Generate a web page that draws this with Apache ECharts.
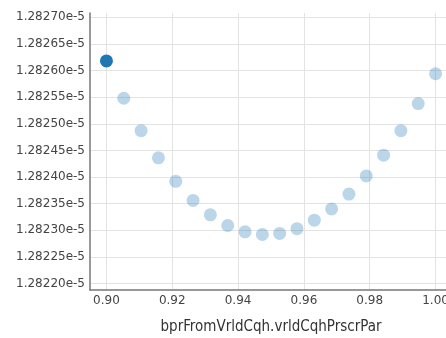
<!DOCTYPE html>
<html>
<head>
<meta charset="utf-8">
<script src="https://cdn.jsdelivr.net/npm/echarts@6/dist/echarts.min.js"></script>
<style>
  html, body { margin: 0; padding: 0; background: #fff; }
  #chart { width: 446px; height: 338px; }
</style>
</head>
<body>
<div id="chart"></div>
<script>
// x values: 20 evenly spaced samples between 0.90 and 1.00
const xValues = [
  0.9, 0.90526, 0.91053, 0.91579, 0.92105, 0.92632, 0.93158, 0.93684, 0.94211, 0.94737,
  0.95263, 0.95789, 0.96316, 0.96842, 0.97368, 0.97895, 0.98421, 0.98947, 0.99474, 1.0
];
// y values
const yValues = [
  1.282618e-5, 1.282548e-5, 1.282487e-5, 1.282436e-5, 1.282392e-5, 1.282356e-5, 1.282329e-5,
  1.282309e-5, 1.282297e-5, 1.282292e-5, 1.282294e-5, 1.282303e-5, 1.282319e-5, 1.28234e-5,
  1.282368e-5, 1.282402e-5, 1.282441e-5, 1.282487e-5, 1.282538e-5, 1.282594e-5
];
const selectedIndex = 0;
const xTitle = "bprFromVrldCqh.vrldCqhPrscrPar";

const chart = echarts.init(document.getElementById("chart"));

const points = xValues.map((x, i) => ({
  value: [x, yValues[i]],
  itemStyle: i === selectedIndex
    ? { color: "#1f77b4", opacity: 1 }
    : { color: "#1f77b4", opacity: 0.3 },
}));

const option = {
  animation: false,
  grid: { left: 90, top: 13, right: -6, bottom: 48, outerBoundsMode: "none", containLabel: false },
  xAxis: {
    type: "value",
    min: 0.895,
    max: 1.005,
    splitNumber: 5,
    axisLine: { lineStyle: { color: "#777", width: 1.5 } },
    axisTick: { show: false },
    axisLabel: {
      showMinLabel: false,
      showMaxLabel: false,
      margin: 5,
      fontFamily: "DejaVu Sans",
      fontSize: 12,
      color: "#444",
      formatter: (v) => v.toFixed(2),
    },
    splitLine: { show: true, showMinLine: false, lineStyle: { color: "#e3e3e3" } },
    name: xTitle,
    nameLocation: "middle",
    nameGap: 30,
    nameTextStyle: {
      fontFamily: "DejaVu Sans Condensed, DejaVu Sans",
      fontSize: 15,
      color: "#333",
    },
  },
  yAxis: {
    type: "value",
    min: 1.2821878e-5,
    max: 1.2827081e-5,
    splitNumber: 10,
    axisLine: { show: true, lineStyle: { color: "#777", width: 1.5 } },
    axisTick: { show: false },
    axisLabel: {
      showMinLabel: false,
      showMaxLabel: false,
      margin: 5,
      fontFamily: "DejaVu Sans",
      fontSize: 12,
      color: "#444",
      formatter: (v) => v.toExponential(5),
    },
    splitLine: { show: true, showMinLine: false, showMaxLine: false, lineStyle: { color: "#e3e3e3" } },
  },
  series: [
    {
      type: "scatter",
      symbolSize: 13,
      data: points,
    },
  ],
};

chart.setOption(option);
</script>
</body>
</html>
